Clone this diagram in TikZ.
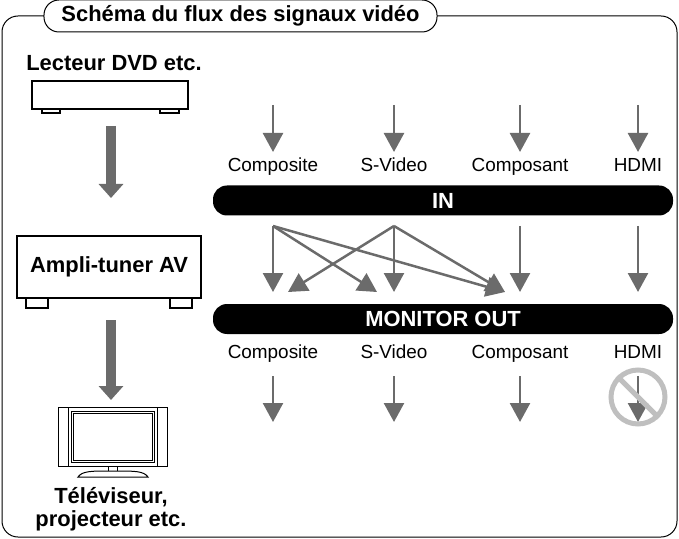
\documentclass[tikz,border=0pt]{standalone}
\usepackage{fontspec}
\setmainfont{Liberation Sans}
\usetikzlibrary{arrows.meta}
\definecolor{ag}{HTML}{6B6B6B}
\begin{document}
\begin{tikzpicture}[x=1bp,y=-1bp,
  box/.style={draw,line width=1.2bp,fill=white},
  thin/.style={draw=ag,line width=2.5bp,-{Triangle[width=20bp,length=19bp]}},
  thick/.style={draw=ag,line width=10bp,-{Triangle[width=24bp,length=14bp]}},
  lab/.style={font=\fontsize{19}{22}\selectfont,text height=14bp,text depth=4bp},
  blab/.style={font=\bfseries\fontsize{22}{23}\selectfont,align=center},
  bar/.style={fill=black,rounded corners=14bp}]
\useasboundingbox (0,0) rectangle (679,539);
% frame
\draw[line width=1bp,rounded corners=16bp] (60,16) -- (2,16) -- (2,537) -- (677,537) -- (677,16) -- (420,16);
\node[draw,fill=white,line width=1bp,rounded corners=15bp,minimum width=393bp,minimum height=32bp,blab] (title) at (240.5,16) {Schéma du flux des signaux vidéo};
% left devices
\node[blab] (dvdl) at (114,63) {Lecteur DVD etc.};
\draw[box] (42,109) rectangle (60,113) (160,109) rectangle (179,113);
\draw[box] (32,81) rectangle (188,109);
\coordinate (a1) at (111,126); \coordinate (a2) at (111,198);
\draw[thick] (a1) -- (a2);
\draw[box] (26,297) rectangle (48,308) (170,297) rectangle (192,308);
\node[box,minimum width=184bp,minimum height=62bp,blab] (amp) at (109,267) {Ampli-tuner AV};
\coordinate (a3) at (111,320); \coordinate (a4) at (111,400);
\draw[thick] (a3) -- (a4);
\draw[line width=1bp,fill=white] (58,407) rectangle (167,466);
\draw[line width=1bp] (68,407) -- (68,466) (157,407) -- (157,466);
\draw[line width=1bp] (71,411) rectangle (154,462);
\draw[line width=0.8bp] (73,413) rectangle (152,460);
\draw[line width=1bp,fill=white] (108,466) rectangle (117,471);
\draw[line width=1bp,fill=white] (78,477) .. controls (82,471) and (92,471) .. (108,471) -- (117,471) .. controls (134,471) and (144,471) .. (148,477) -- cycle;
\node[blab] (tv) at (111,509) {Téléviseur,\\projecteur etc.};
% bars
\node[bar,minimum width=460bp,minimum height=30bp,text=white,blab] (in) at (443,200.5) {IN};
\node[bar,minimum width=460bp,minimum height=30bp,text=white,blab] (mo) at (443,319) {MONITOR OUT};
\foreach \x/\t/\n in {273/Composite/a,394/S-Video/b,520/Composant/c,638/HDMI/d}{
  \coordinate (t\n) at (\x,105); \coordinate (h\n) at (\x,152);
  \draw[thin] (t\n) -- (h\n);
  \node[lab] (li\n) at (\x,167) {\t};
  \node[lab] (lo\n) at (\x,353) {\t};
  \coordinate (s\n) at (\x,226); \coordinate (e\n) at (\x,292);
  \draw[thin] (s\n) -- (e\n);
}
\foreach \x/\n in {273/a,394/b,520/c}{
  \coordinate (bs\n) at (\x,376); \coordinate (be\n) at (\x,422);
  \draw[thin] (bs\n) -- (be\n);
}
\coordinate (x1) at (377,292); \coordinate (x2) at (505,292); \coordinate (x3) at (288,292);
\draw[thin] (sa) -- (x1);
\draw[thin] (sa) -- (x2);
\draw[thin] (sb) -- (x3);
\draw[thin] (sb) -- (x2);
\coordinate (bsd) at (638,376); \coordinate (bed) at (638,422);
\draw[thin] (bsd) -- (bed);
\node[circle,draw=black!25,line width=5bp,minimum size=54bp] (no) at (638,397) {};
\draw[draw=black!25,line width=5bp] (no.135) -- (no.-45);
\end{tikzpicture}
\end{document}
